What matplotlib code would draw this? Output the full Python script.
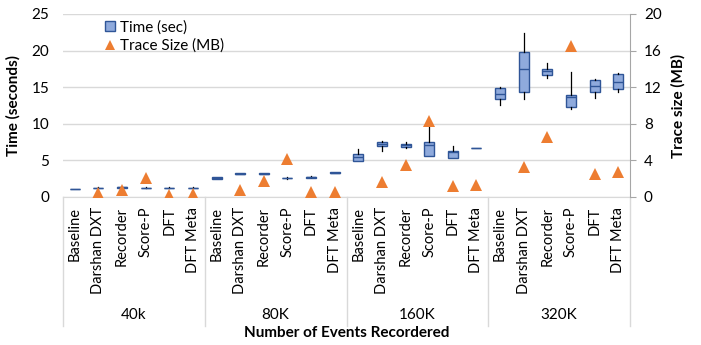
import numpy as np
import matplotlib
matplotlib.use('Agg')
from matplotlib import pyplot as plt
from matplotlib.lines import Line2D
from matplotlib import transforms

plt.rcParams['font.family'] = ['Lato', 'DejaVu Sans']

groups = ['40k', '80K', '160K', '320K']
tools = ['Baseline', 'Darshan DXT', 'Recorder', 'Score-P', 'DFT', 'DFT Meta']

# box-and-whisker stats for run time (seconds), one row per group, one column per tool
time_lo = [[1.08, 1.18, 1.25, 1.18, 1.18, 1.18],
           [2.45, 3.10, 3.10, 2.50, 2.60, 3.25],
           [4.96, 6.30, 6.65, 5.60, 5.28, 6.65],
           [12.52, 13.34, 16.30, 12.00, 13.57, 14.34]]
time_q1 = [[1.10, 1.20, 1.28, 1.20, 1.20, 1.20],
           [2.52, 3.15, 3.15, 2.55, 2.62, 3.28],
           [4.96, 7.00, 6.87, 5.60, 5.28, 6.68],
           [13.39, 14.39, 16.71, 12.25, 14.39, 14.71]]
time_med = [[1.12, 1.24, 1.32, 1.24, 1.24, 1.24],
            [2.60, 3.20, 3.20, 2.60, 2.70, 3.32],
            [5.50, 7.24, 7.06, 7.10, 6.10, 6.70],
            [14.03, 17.44, 17.17, 13.62, 15.16, 15.70]]
time_q3 = [[1.14, 1.27, 1.36, 1.27, 1.27, 1.27],
           [2.68, 3.25, 3.25, 2.65, 2.78, 3.36],
           [5.87, 7.47, 7.24, 7.51, 6.33, 6.72],
           [14.85, 19.85, 17.49, 13.93, 15.98, 16.80]]
time_hi = [[1.16, 1.30, 1.40, 1.30, 1.30, 1.30],
           [2.72, 3.30, 3.30, 2.75, 2.85, 3.40],
           [6.50, 7.65, 7.55, 9.80, 6.97, 6.75],
           [14.98, 22.45, 18.26, 17.12, 16.16, 16.90]]

# trace size in MB (no trace for the baseline run)
trace_mb = [[np.nan, 0.45, 0.75, 2.10, 0.20, 0.30],
            [np.nan, 0.77, 1.75, 4.15, 0.50, 0.60],
            [np.nan, 1.64, 3.50, 8.34, 1.20, 1.35],
            [np.nan, 3.31, 6.52, 16.50, 2.50, 2.77]]

box_fill = '#8FAADC'
box_edge = '#2F5597'
orange = '#ED7D31'
grid_col = '#D9D9D9'

fig = plt.figure(figsize=(7.01, 3.45), dpi=100)
ax = fig.add_axes([63 / 701, 1 - 197 / 345, (630 - 63) / 701, 183 / 345])
ax2 = ax.twinx()

n_tools = len(tools)
stats = []
for g in range(len(groups)):
    for t in range(n_tools):
        stats.append({'whislo': time_lo[g][t], 'q1': time_q1[g][t],
                      'med': time_med[g][t], 'q3': time_q3[g][t],
                      'whishi': time_hi[g][t]})
pos = np.arange(len(stats))

ax.bxp(stats, positions=pos, widths=0.42, patch_artist=True, showfliers=False,
       showcaps=False,
       boxprops=dict(facecolor=box_fill, edgecolor=box_edge, linewidth=1.0),
       medianprops=dict(color=box_edge, linewidth=1.0),
       whiskerprops=dict(color='black', linewidth=0.9))

sizes = np.array(trace_mb).ravel()
ax2.plot(pos, sizes, linestyle='none', marker='^', ms=8.5, color=orange,
         markeredgewidth=0)

ax.set_xlim(-0.5, len(stats) - 0.5)
ax.set_ylim(0, 25)
ax.set_yticks(np.arange(0, 26, 5))
ax2.set_ylim(0, 20)
ax2.set_yticks(np.arange(0, 21, 4))

ax.yaxis.grid(True, color=grid_col, linewidth=1.0)
ax.set_axisbelow(True)
for s in ['top', 'left', 'right']:
    ax.spines[s].set_visible(False)
for s in ['top', 'left', 'bottom']:
    ax2.spines[s].set_visible(False)
ax.spines['bottom'].set_color(grid_col)
ax2.spines['right'].set_color('#A6A6A6')

ax.tick_params(axis='y', length=0, pad=10, labelsize=11)
ax2.tick_params(axis='y', length=4, color='#A6A6A6', pad=6, labelsize=11)
ax.set_xticks(pos)
ax.set_xticklabels(tools * len(groups), rotation=90, fontsize=10.5,
                   va='top', ha='center')
ax.tick_params(axis='x', length=0, pad=7)

ax.set_ylabel('Time (seconds)', fontsize=11, fontweight='bold', labelpad=8)
ax2.set_ylabel('Trace size (MB)', fontsize=11, fontweight='bold', labelpad=7)

# group separators and labels below the tool names
trans = transforms.blended_transform_factory(ax.transData, ax.transAxes)
low = -(326 - 197) / 183
for g in range(len(groups) + 1):
    x = g * n_tools - 0.5
    ax.plot([x, x], [0, low], color=grid_col, linewidth=1.0,
            transform=trans, clip_on=False)
for g, name in enumerate(groups):
    ax.text(g * n_tools + (n_tools - 1) / 2, -(315 - 197) / 183, name,
            transform=trans, ha='center', va='center', fontsize=11)

fig.text((63 + 630) / 2 / 701, 1 - 333 / 345, 'Number of Events Recordered',
         ha='center', va='center', fontsize=11, fontweight='bold')

handles = [Line2D([], [], linestyle='none', marker='s', ms=6.5,
                  markerfacecolor=box_fill, markeredgecolor=box_edge,
                  markeredgewidth=1.0, label='Time (sec)'),
           Line2D([], [], linestyle='none', marker='^', ms=7, color=orange,
                  markeredgewidth=0, label='Trace Size (MB)')]
ax.legend(handles=handles, loc='upper left', bbox_to_anchor=(0.05, 1.04),
          frameon=False, fontsize=11, handlelength=0.6, handletextpad=0.4,
          labelspacing=0.25)

fig.savefig('out.png', dpi=100)
